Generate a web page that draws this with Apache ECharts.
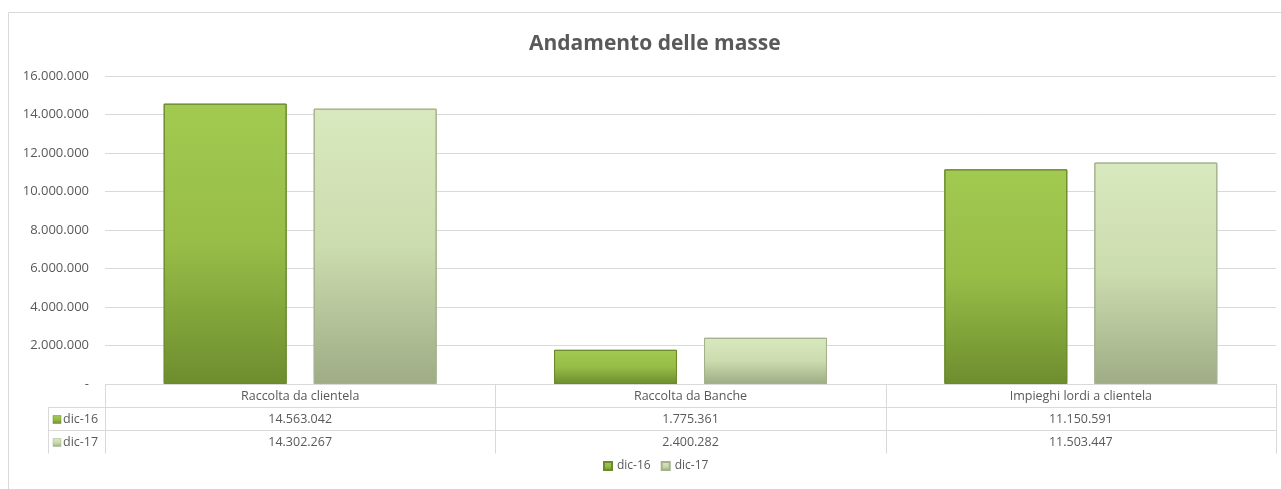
<!DOCTYPE html>
<html>
<head>
<meta charset="utf-8">
<script src="https://cdn.jsdelivr.net/npm/echarts@6/dist/echarts.min.js"></script>
<style>
  html, body { margin: 0; padding: 0; background: #fff; }
  #chart { width: 1281px; height: 489px; }
</style>
</head>
<body>
<div id="chart"></div>
<script>
// dati
const categories = ['Raccolta da clientela', 'Raccolta da Banche', 'Impieghi lordi a clientela']
const seriesNames = ['dic-16', 'dic-17']
const dic16 = [14563042, 1775361, 11150591]
const dic17 = [14302267, 2400282, 11503447]

const textColor = '#595959'
const lineColor = '#d9d9d9'
const font = '"Open Sans", "Noto Sans", sans-serif'

// formato italiano 1.234.567
const fmt = (v) => v === 0 ? '-' : String(Math.round(v)).replace(/\B(?=(\d{3})+(?!\d))/g, '.')

const grad = (top, mid, bottom) => new echarts.graphic.LinearGradient(0, 0, 0, 1, [
  { offset: 0, color: top },
  { offset: 0.5, color: mid },
  { offset: 1, color: bottom }
])

const fills = [
  grad('#a2c950', '#97bd47', '#6d8d2e'),
  grad('#d9e9bf', '#cbdcae', '#9fac86')
]
const borders = ['#6b8a2c', '#a4b18c']

const chart = echarts.init(document.getElementById('chart'))

const option = {
  animation: false,
  backgroundColor: '#fff',
  title: {
    text: 'Andamento delle masse',
    left: 524,
    top: 29,
    textStyle: { fontFamily: font, fontSize: 21, fontWeight: 'bold', color: textColor }
  },
  legend: {
    data: seriesNames,
    top: 455,
    left: 598,
    itemWidth: 8,
    itemHeight: 8,
    itemGap: 10,
    icon: 'rect',
    textStyle: { fontFamily: font, fontSize: 12, color: textColor }
  },
  grid: { left: 105, right: 5, top: 76, bottom: 105, containLabel: false },
  xAxis: {
    type: 'category',
    data: categories,
    axisLine: { show: false },
    axisTick: { show: false },
    axisLabel: { show: false }
  },
  yAxis: {
    type: 'value',
    min: 0,
    max: 16000000,
    interval: 2000000,
    axisLine: { show: false },
    axisTick: { show: false },
    splitLine: { lineStyle: { color: lineColor, width: 1 } },
    axisLabel: {
      formatter: fmt,
      fontFamily: font,
      fontSize: 13,
      color: textColor,
      margin: 16
    }
  },
  series: [
    {
      name: seriesNames[0],
      type: 'bar',
      data: dic16,
      barWidth: '31.5%',
      barGap: '22%',
      itemStyle: { color: fills[0], borderColor: borders[0], borderWidth: 1 }
    },
    {
      name: seriesNames[1],
      type: 'bar',
      data: dic17,
      barWidth: '31.5%',
      barGap: '22%',
      itemStyle: { color: fills[1], borderColor: borders[1], borderWidth: 1 }
    }
  ]
}

chart.setOption(option)

// tabella dati sotto il grafico, posizionata dalle scale di echarts
const buildTable = () => {
  const x0 = chart.convertToPixel({ xAxisIndex: 0 }, 0)
  const x1 = chart.convertToPixel({ xAxisIndex: 0 }, 1)
  const band = x1 - x0
  const left = x0 - band / 2
  const right = left + band * categories.length
  const yTop = chart.convertToPixel({ yAxisIndex: 0 }, 0)
  const rowH = 23
  const keyLeft = 48
  const rows = [dic16, dic17]
  const els = []
  const line = (xa, ya, xb, yb) => els.push({
    type: 'line', silent: true,
    shape: { x1: xa, y1: ya, x2: xb, y2: yb },
    style: { stroke: lineColor, lineWidth: 1 }
  })
  const text = (s, x, y, align) => els.push({
    type: 'text', silent: true,
    x: x, y: y,
    style: { text: s, fill: textColor, font: '12.5px ' + font, align: align || 'center', verticalAlign: 'middle' }
  })

  // linee orizzontali
  line(left, yTop + 0.5, right, yTop + 0.5)
  for (let r = 1; r <= rows.length; r++) {
    line(keyLeft, Math.round(yTop + rowH * r) + 0.5, right, Math.round(yTop + rowH * r) + 0.5)
  }
  // linee verticali
  const bottom = Math.round(yTop + rowH * (rows.length + 1)) + 0.5
  line(keyLeft + 0.5, yTop + rowH, keyLeft + 0.5, bottom)
  for (let c = 0; c <= categories.length; c++) {
    const x = Math.round(left + band * c) + 0.5
    line(x, yTop, x, bottom)
  }
  // intestazioni
  categories.forEach((cat, i) => text(cat, left + band * (i + 0.5), yTop + rowH / 2 + 1))
  // righe
  rows.forEach((vals, r) => {
    const cy = yTop + rowH * (r + 1.5) + 1
    els.push({
      type: 'rect', silent: true,
      shape: { x: keyLeft + 5, y: cy - 4, width: 8, height: 8 },
      style: { fill: fills[r], stroke: borders[r], lineWidth: 0.5 }
    })
    text(seriesNames[r], keyLeft + 15, cy, 'left')
    vals.forEach((v, i) => text(fmt(v), left + band * (i + 0.5), cy))
  })
  // bordo esterno
  els.push({
    type: 'polyline', silent: true,
    shape: { points: [[8.5, 489], [8.5, 12.5], [1281, 12.5]] },
    style: { stroke: lineColor, fill: null, lineWidth: 1 }
  })
  chart.setOption({ graphic: els })
}

buildTable()
</script>
</body>
</html>
